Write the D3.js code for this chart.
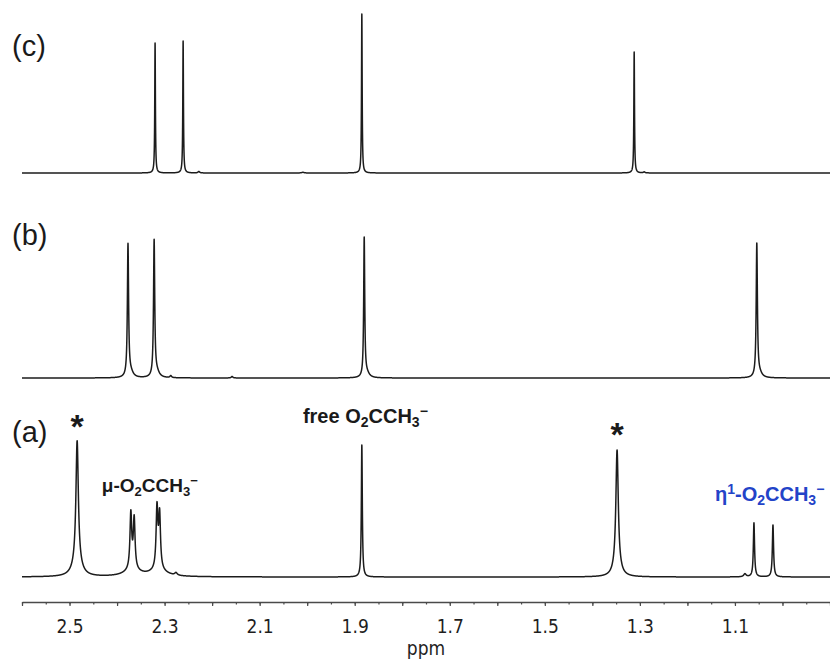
<!DOCTYPE html>
<html>
<head>
<meta charset="utf-8">
<script src="https://cdn.jsdelivr.net/npm/d3@7"></script>
<style>
  html, body { margin: 0; padding: 0; background: #fff; }
  svg { display: block; }
  .tick-label { font-family: "DejaVu Sans Condensed", "DejaVu Sans", sans-serif; font-stretch: condensed; }
</style>
</head>
<body>
<svg id="chart" width="830" height="660"></svg>
<script>
// Chemical-shift window (ppm, decreasing to the right)
const ppmRange = [2.6, 0.9];
const tickLabels = [2.5, 2.3, 2.1, 1.9, 1.7, 1.5, 1.3, 1.1];
const axisTitle = "ppm";

// Peak lists for each spectrum: [shift (ppm), height, half-width at half-height (ppm)]
const peaksC = [
  [2.320, 130, 0.0008],
  [2.261, 132, 0.0008],
  [1.885, 159, 0.0008],
  [1.312, 121, 0.0008],
  [2.228, 1.5, 0.002],
  [2.009, 0.7, 0.003],
  [1.291, 1.0, 0.002]
];
const peaksB = [
  [2.377, 132, 0.0015],
  [2.371, 5, 0.006],
  [2.322, 136, 0.0015],
  [2.316, 5, 0.006],
  [2.287, 2, 0.002],
  [2.158, 1.5, 0.002],
  [1.880, 139, 0.0013],
  [1.874, 4, 0.006],
  [1.054, 133, 0.0015],
  [1.048, 4, 0.006]
];
const peaksA = [
  [2.484, 122, 0.003],
  [2.484, 14, 0.010],
  [2.371, 55.8, 0.0022],
  [2.364, 50.3, 0.0022],
  [2.368, 6, 0.020],
  [2.316, 60.9, 0.0022],
  [2.3105, 53.9, 0.0022],
  [2.313, 6, 0.020],
  [2.276, 2.5, 0.003],
  [1.885, 132, 0.0012],
  [1.348, 117, 0.003],
  [1.348, 10, 0.008],
  [1.079, 3, 0.003],
  [1.060, 54, 0.0015],
  [1.020, 52, 0.0015]
];

const panelNames = ["(c)", "(b)", "(a)"];

const svg = d3.select("#chart");
const x = d3.scaleLinear().domain(ppmRange).range([22, 830]);

// Lorentzian line shape summed over a peak list
function intensity(peaks, d) {
  let s = 0;
  for (const [c, h, g] of peaks) {
    const u = (d - c) / g;
    s += h / (1 + u * u);
  }
  return s;
}

// Sample points: a regular grid plus dense points around every peak centre
function samplePoints(peaks) {
  const pts = d3.range(ppmRange[1], ppmRange[0] + 1e-9, 0.0005);
  for (const [c, , g] of peaks) {
    const w = Math.max(0.012, g * 12);
    const step = Math.min(0.0001, g / 6);
    for (let d = c - w; d <= c + w; d += step) pts.push(d);
    pts.push(c);
  }
  return Array.from(new Set(pts.map(v => +v.toFixed(6))))
    .filter(v => v <= ppmRange[0] && v >= ppmRange[1])
    .sort((a, b) => b - a);
}

const panels = [
  { peaks: peaksC, base: 173, name: panelNames[0], labelY: 56 },
  { peaks: peaksB, base: 378, name: panelNames[1], labelY: 245 },
  { peaks: peaksA, base: 577, name: panelNames[2], labelY: 442 }
];

panels.forEach(p => {
  const y = d3.scaleLinear().domain([0, 170]).range([p.base, p.base - 170]);
  const data = samplePoints(p.peaks).map(d => [d, intensity(p.peaks, d)]);
  const line = d3.line().x(d => x(d[0])).y(d => y(d[1]));
  svg.append("path")
    .datum(data)
    .attr("d", line)
    .attr("fill", "none")
    .attr("stroke", "#1c1c1c")
    .attr("stroke-width", 1.5)
    .attr("stroke-linejoin", "round");

  svg.append("text")
    .attr("x", 12)
    .attr("y", p.labelY)
    .attr("font-family", "'Liberation Sans', Arial, sans-serif")
    .attr("font-size", 29)
    .attr("fill", "#1a1a1a")
    .text(p.name);
});

// Axis
const axisY = 602;
const minorTicks = d3.range(0, 35).map(i => +(0.9 + i * 0.05).toFixed(2)).filter(v => v <= 2.6);
const tenthTicks = minorTicks.filter(v => Math.abs(Math.round(v * 10) - v * 10) < 1e-6);

const gMinor = svg.append("g").attr("transform", `translate(0,${axisY})`)
  .call(d3.axisBottom(x).tickValues(minorTicks).tickSize(2.5).tickSizeOuter(0).tickFormat(""));
gMinor.select(".domain").remove();

const gMajor = svg.append("g").attr("transform", `translate(0,${axisY})`)
  .call(d3.axisBottom(x).tickValues(tenthTicks).tickSize(4).tickSizeOuter(0).tickFormat(""));

svg.selectAll(".tick line").attr("stroke", "#4a4a4a").attr("stroke-width", 1.2);
gMajor.select(".domain").attr("stroke", "#4a4a4a").attr("stroke-width", 1.4);

const gLabels = svg.append("g").attr("transform", `translate(0,${axisY})`)
  .call(d3.axisBottom(x).tickValues(tickLabels).tickSize(0).tickFormat(d3.format(".1f")));
gLabels.select(".domain").remove();
gLabels.selectAll("text")
  .attr("class", "tick-label")
  .attr("y", 31).attr("dy", 0)
  .attr("font-size", 19)
  .attr("fill", "#1e1e1e");

svg.append("text")
  .attr("class", "tick-label")
  .attr("x", (x.range()[0] + x.range()[1]) / 2)
  .attr("y", 655)
  .attr("text-anchor", "middle")
  .attr("font-size", 19)
  .attr("fill", "#1e1e1e")
  .text(axisTitle);

// Peak annotations
const annoFont = "'Liberation Sans', Arial, sans-serif";

function formulaLabel(xPos, yPos, color, size, parts) {
  const small = Math.round(size * 0.68);
  const t = svg.append("text")
    .attr("x", xPos).attr("y", yPos)
    .attr("font-family", annoFont)
    .attr("font-weight", "bold")
    .attr("font-size", size)
    .attr("fill", color);
  let level = 0;
  parts.forEach(([str, kind]) => {
    const target = kind === "sub" ? 4 : kind === "sup" ? -7 : 0;
    t.append("tspan")
      .attr("dy", target - level)
      .attr("font-size", kind ? small : size)
      .text(str);
    level = target;
  });
}

formulaLabel(x(2.009), 423, "#1a1a1a", 20, [["free O"], ["2", "sub"], ["CCH"], ["3", "sub"], ["\u2212", "sup"]]);
formulaLabel(x(2.432), 492, "#1a1a1a", 19, [["\u03bc-O"], ["2", "sub"], ["CCH"], ["3", "sub"], ["\u2212", "sup"]]);
formulaLabel(x(1.142), 501, "#2343c8", 20, [["\u03b7"], ["1", "sup"], ["-O"], ["2", "sub"], ["CCH"], ["3", "sub"], ["\u2212", "sup"]]);

// Asterisks marking solvent/impurity signals
[[2.484, 438], [1.348, 446]].forEach(([ppm, yy]) => {
  svg.append("text")
    .attr("x", x(ppm)).attr("y", yy)
    .attr("text-anchor", "middle")
    .attr("font-family", annoFont)
    .attr("font-weight", "bold")
    .attr("font-size", 34)
    .attr("fill", "#1a1a1a")
    .text("*");
});
</script>
</body>
</html>
